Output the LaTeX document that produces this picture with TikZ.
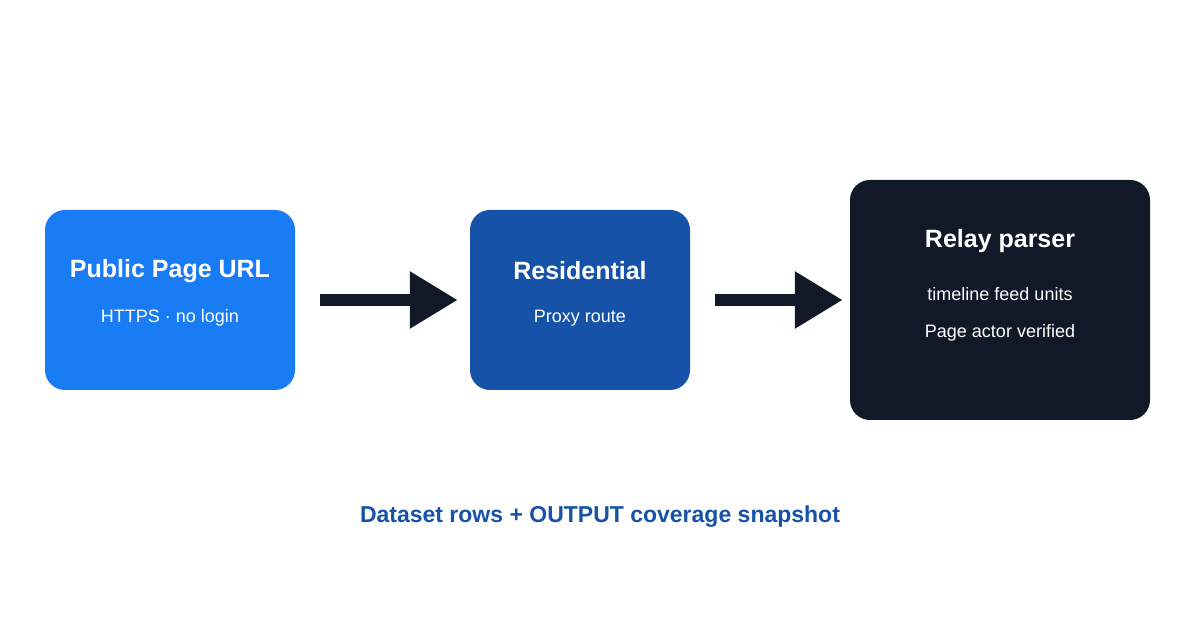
\documentclass[tikz,border=0pt]{standalone}
\usepackage{fontspec}
\setmainfont{Liberation Sans}
\usetikzlibrary{arrows.meta}
\definecolor{bA}{HTML}{1A7CF5}
\definecolor{bB}{HTML}{1652A8}
\definecolor{bC}{HTML}{111827}
\begin{document}
\begin{tikzpicture}[x=1pt,y=1pt,
  box/.style={rounded corners=20pt,inner sep=0pt},
  ttl/.style={text=white,font=\fontsize{25}{30}\selectfont\bfseries},
  sub/.style={text=white,font=\fontsize{18}{22}\selectfont},
  conn/.style={line width=12pt,color=bC,-{Triangle[length=48pt,width=54pt]}}]
\useasboundingbox (0,0) rectangle (1200,630);
\fill[white] (0,0) rectangle (1200,630);
\node[box,fill=bA,minimum width=250pt,minimum height=180pt] (a) at (170,330) {};
\node[box,fill=bB,minimum width=220pt,minimum height=180pt] (b) at (580,330) {};
\node[box,fill=bC,minimum width=300pt,minimum height=240pt] (c) at (1000,330) {};
\node[ttl] (at) at (170,359) {Public Page URL};
\node[sub] (as) at (170,312) {HTTPS · no login};
\node[ttl] (bt) at (580,359) {Residential};
\node[sub] (bs) at (580,312) {Proxy route};
\node[ttl] (ct) at (1000,389) {Relay parser};
\node[sub] (c1) at (1000,336) {timeline feed units};
\node[sub] (c2) at (1000,297) {Page actor verified};
\draw[conn,shorten <=25pt,shorten >=12pt] (a.east) -- (b.west);
\draw[conn,shorten <=25pt,shorten >=7pt] (b.east) -- (c.west);
\node[text=bB,font=\fontsize{23}{28}\selectfont\bfseries] (cap) at (600,113) {Dataset rows + OUTPUT coverage snapshot};
\end{tikzpicture}
\end{document}
